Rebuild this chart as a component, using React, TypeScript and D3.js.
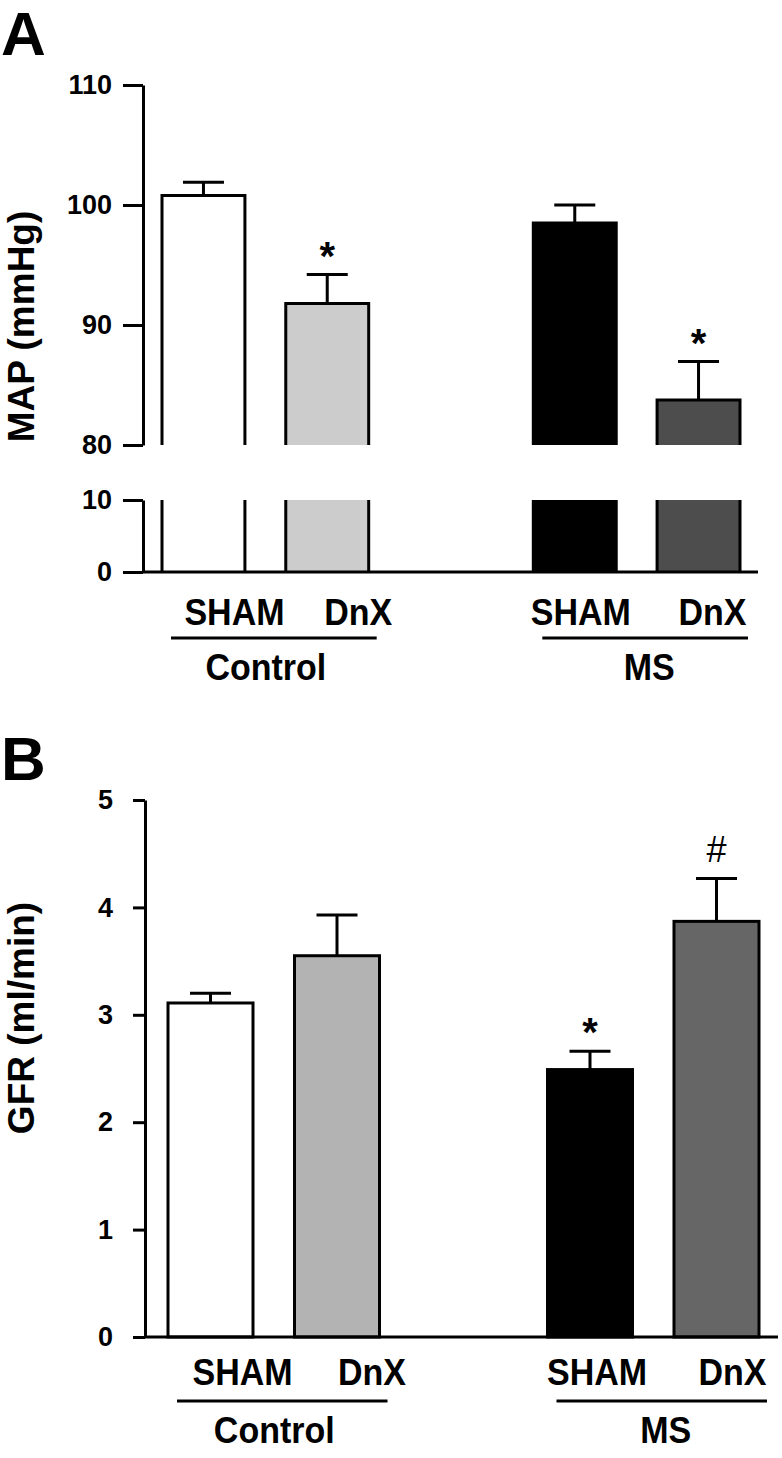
import React, { useEffect, useRef } from "react";
import * as d3 from "d3";

// ---------- data ----------
const barKeys = ["c-sham", "c-dnx", "gap", "ms-sham", "ms-dnx"];
const barSlots = ["c-sham", "c-dnx", "ms-sham", "ms-dnx"];
const subLabels = ["SHAM", "DnX", "SHAM", "DnX"];
const groupLabels = ["Control", "MS"];

const mapValues = [100.8, 91.8, 98.5, 83.75];
const mapErrors = [1.1, 2.4, 1.5, 3.2];
const mapMarks = ["", "*", "", "*"];
const mapUpperTicks = [80, 90, 100, 110];
const mapLowerTicks = [0, 10];

const gfrValues = [3.11, 3.55, 2.49, 3.87];
const gfrErrors = [0.09, 0.38, 0.17, 0.4];
const gfrMarks = ["", "", "*", "#"];
const gfrTicks = [0, 1, 2, 3, 4, 5];

// ---------- styles ----------
const mapFills = ["#ffffff", "#cccccc", "#000000", "#4d4d4d"];
const gfrFills = ["#ffffff", "#b3b3b3", "#000000", "#666666"];
const FONT = "'Liberation Sans', Arial, Helvetica, sans-serif";
const SW = 3;
const CAP = 41;

export default function App() {
  const ref = useRef<SVGSVGElement | null>(null);

  useEffect(() => {
    const svg = d3.select(ref.current);
    svg.selectAll("*").remove();

    const drawLabels = (
      g: any,
      x: d3.ScaleBand<string>,
      subY: number,
      lineY: number,
      groupY: number,
      subOffsets: number[]
    ) => {
      subLabels.forEach((lab, i) => {
        const cx = (x(barSlots[i]) as number) + x.bandwidth() / 2 + subOffsets[i];
        g.append("text")
          .attr("transform", `translate(${cx},${subY}) scale(1,1.08)`)
          .attr("text-anchor", "middle")
          .attr("font-family", FONT)
          .attr("font-weight", "bold")
          .attr("font-size", 34)
          .text(lab);
      });
      groupLabels.forEach((lab, gi) => {
        const a = barSlots[gi * 2];
        const b = barSlots[gi * 2 + 1];
        const x0 = (x(a) as number) + 9;
        const x1 = (x(b) as number) + x.bandwidth() + 8;
        g.append("line")
          .attr("x1", x0)
          .attr("x2", x1)
          .attr("y1", lineY)
          .attr("y2", lineY)
          .attr("stroke", "#000")
          .attr("stroke-width", SW);
        g.append("text")
          .attr("transform", `translate(${(x0 + x1) / 2 + (gi === 0 ? -8 : 4)},${groupY}) scale(1,1.08)`)
          .attr("text-anchor", "middle")
          .attr("font-family", FONT)
          .attr("font-weight", "bold")
          .attr("font-size", 34)
          .text(lab);
      });
    };

    const styleAxis = (ax: any) => {
      ax.selectAll("path").attr("stroke", "#000").attr("stroke-width", SW);
      ax.selectAll("line").attr("stroke", "#000").attr("stroke-width", SW);
      ax.selectAll("text")
        .attr("font-family", FONT)
        .attr("font-weight", "bold")
        .attr("font-size", 27)
        .attr("fill", "#000");
    };

    const drawMark = (g: any, cx: number, capY: number, mark: string) => {
      if (!mark) return;
      const isHash = mark === "#";
      g.append("text")
        .attr("x", cx)
        .attr("y", isHash ? capY - 16 : capY - 5)
        .attr("text-anchor", "middle")
        .attr("font-family", FONT)
        .attr("font-weight", isHash ? "normal" : "bold")
        .attr("font-size", isHash ? 36 : 40)
        .text(mark);
    };

    // ================= Panel A =================
    {
      const g = svg.append("g");
      const axisX = 143;
      const yU = d3.scaleLinear().domain([80, 110]).range([445, 85]);
      const yL = d3.scaleLinear().domain([0, 10]).range([572, 500]);
      const x = d3.scaleBand<string>().domain(barKeys).range([162, 740]).paddingInner(0.33).paddingOuter(0);

      g.append("text")
        .attr("x", 1)
        .attr("y", 55)
        .attr("font-family", FONT)
        .attr("font-weight", "bold")
        .attr("font-size", 62)
        .text("A");

      g.append("text")
        .attr("transform", `translate(34,${(85 + 572) / 2 - 2}) rotate(-90)`)
        .attr("text-anchor", "middle")
        .attr("font-family", FONT)
        .attr("font-weight", "bold")
        .attr("font-size", 37)
        .text("MAP (mmHg)");

      // bars
      barSlots.forEach((k, i) => {
        const x0 = x(k) as number;
        const x1 = x0 + x.bandwidth();
        const top = yU(mapValues[i]);
        g.append("rect")
          .attr("x", x0)
          .attr("y", top)
          .attr("width", x.bandwidth())
          .attr("height", yU(80) - top)
          .attr("fill", mapFills[i]);
        g.append("rect")
          .attr("x", x0)
          .attr("y", yL(10))
          .attr("width", x.bandwidth())
          .attr("height", yL(0) - yL(10))
          .attr("fill", mapFills[i]);
        g.append("path")
          .attr("d", `M${x0},${yU(80)}V${top}H${x1}V${yU(80)}`)
          .attr("fill", "none")
          .attr("stroke", "#000")
          .attr("stroke-width", SW);
        g.append("path")
          .attr("d", `M${x0},${yL(10)}V${yL(0)}M${x1},${yL(10)}V${yL(0)}`)
          .attr("fill", "none")
          .attr("stroke", "#000")
          .attr("stroke-width", SW);
        const cx = (x0 + x1) / 2;
        const capY = yU(mapValues[i] + mapErrors[i]);
        g.append("path")
          .attr("d", `M${cx},${top}V${capY}M${cx - CAP / 2},${capY}H${cx + CAP / 2}`)
          .attr("fill", "none")
          .attr("stroke", "#000")
          .attr("stroke-width", SW);
        drawMark(g, cx, capY, mapMarks[i]);
      });

      // baseline
      g.append("line")
        .attr("x1", axisX)
        .attr("x2", 758)
        .attr("y1", yL(0))
        .attr("y2", yL(0))
        .attr("stroke", "#000")
        .attr("stroke-width", SW);

      const axU = g.append("g").attr("transform", `translate(${axisX},0)`);
      axU.call(d3.axisLeft(yU).tickValues(mapUpperTicks).tickSize(20).tickSizeOuter(0).tickPadding(11).tickFormat(d3.format("d")));
      styleAxis(axU);
      const axL = g.append("g").attr("transform", `translate(${axisX},0)`);
      axL.call(d3.axisLeft(yL).tickValues(mapLowerTicks).tickSize(20).tickSizeOuter(0).tickPadding(11).tickFormat(d3.format("d")));
      styleAxis(axL);

      drawLabels(g, x, 625, 638, 680, [31, 31, 6, 14]);
    }

    // ================= Panel B =================
    {
      const g = svg.append("g");
      const axisX = 145;
      const y = d3.scaleLinear().domain([0, 5]).range([1337, 800]);
      const x = d3.scaleBand<string>().domain(barKeys).range([168, 759]).paddingInner(0.328).paddingOuter(0);

      g.append("text")
        .attr("x", 1)
        .attr("y", 780)
        .attr("font-family", FONT)
        .attr("font-weight", "bold")
        .attr("font-size", 62)
        .text("B");

      g.append("text")
        .attr("transform", `translate(34,1018) rotate(-90)`)
        .attr("text-anchor", "middle")
        .attr("font-family", FONT)
        .attr("font-weight", "bold")
        .attr("font-size", 37)
        .text("GFR (ml/min)");

      barSlots.forEach((k, i) => {
        const x0 = x(k) as number;
        const x1 = x0 + x.bandwidth();
        const top = y(gfrValues[i]);
        g.append("rect")
          .attr("x", x0)
          .attr("y", top)
          .attr("width", x.bandwidth())
          .attr("height", y(0) - top)
          .attr("fill", gfrFills[i])
          .attr("stroke", "#000")
          .attr("stroke-width", SW);
        const cx = (x0 + x1) / 2;
        const capY = y(gfrValues[i] + gfrErrors[i]);
        g.append("path")
          .attr("d", `M${cx},${top}V${capY}M${cx - CAP / 2},${capY}H${cx + CAP / 2}`)
          .attr("fill", "none")
          .attr("stroke", "#000")
          .attr("stroke-width", SW);
        drawMark(g, cx, capY, gfrMarks[i]);
      });

      g.append("line")
        .attr("x1", axisX)
        .attr("x2", 778)
        .attr("y1", y(0))
        .attr("y2", y(0))
        .attr("stroke", "#000")
        .attr("stroke-width", SW);

      const ax = g.append("g").attr("transform", `translate(${axisX},0)`);
      ax.call(d3.axisLeft(y).tickValues(gfrTicks).tickSize(12).tickSizeOuter(0).tickPadding(20).tickFormat(d3.format("d")));
      styleAxis(ax);

      drawLabels(g, x, 1385, 1401, 1443, [32, 35, 7, 16]);
    }
  }, []);

  return (
    <svg
      ref={ref}
      width={782}
      height={1458}
      style={{ position: "absolute", left: 0, top: 0, background: "#fff", display: "block" }}
    />
  );
}
